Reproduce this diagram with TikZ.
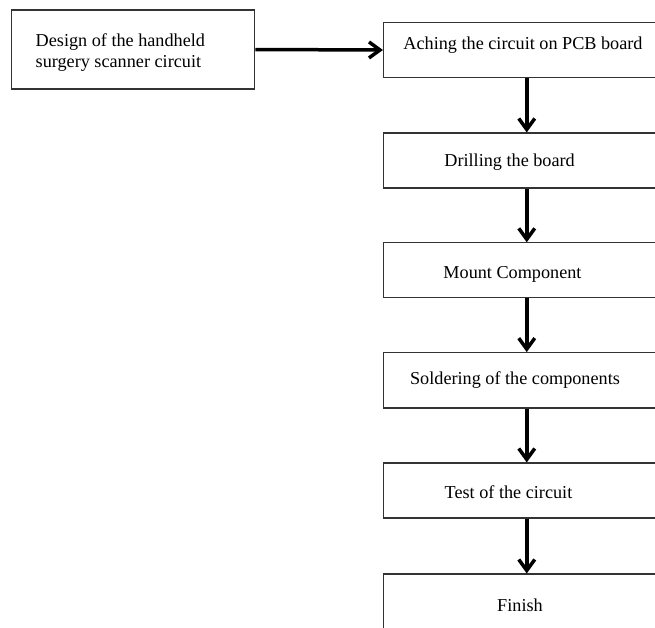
\documentclass[tikz,border=0pt]{standalone}
\usepackage{fontspec}
\setmainfont{Liberation Serif}
\usetikzlibrary{arrows.meta}
\begin{document}
\begin{tikzpicture}[x=1pt,y=-1pt,
  stepbox/.style={draw=black!80,line width=1.1pt,rectangle,inner sep=0pt,minimum width=#1},
  stepbox/.default=286.5pt,
  lbl/.style={font=\fontsize{18.2}{20}\selectfont,inner sep=0pt,anchor=base},
  flow/.style={line width=3.5pt,-{Straight Barb[length=11pt,width=16pt]}}]
\clip (0,0) rectangle (655,627);
\fill[white] (0,0) rectangle (655,627);
% left box
\node[stepbox=243pt,minimum height=79pt] (design) at (133.25,49.5) {};
\node[lbl,anchor=base west] (design1) at (35.5,46.7) {Design of the handheld};
\node[lbl,anchor=base west] (design2) at (35.5,67) {surgery scanner circuit};
% right boxes
\node[stepbox,minimum height=55.4pt] (b1) at (526.75,50) {};
\node[stepbox,minimum height=55pt] (b2) at (526.75,160.5) {};
\node[stepbox,minimum height=54.3pt] (b3) at (526.75,270) {};
\node[stepbox,minimum height=55.3pt] (b4) at (526.75,380.3) {};
\node[stepbox,minimum height=55pt] (b5) at (526.75,490.5) {};
\node[stepbox,minimum height=55pt] (b6) at (526.75,601.5) {};
\node[lbl] (t1) at (523,49) {Aching the circuit on PCB board};
\node[lbl] (t2) at (509.6,166.5) {Drilling the board};
\node[lbl] (t3) at (512.5,278) {Mount Component};
\node[lbl] (t4) at (515,384.5) {Soldering of the components};
\node[lbl] (t5) at (508.5,498) {Test of the circuit};
\node[lbl] (t6) at (520,611.5) {Finish};
% connectors
\draw[flow] (design.east) -- (b1.west);
\draw[flow] (b1.south) -- (b2.north);
\draw[flow] (b2.south) -- (b3.north);
\draw[flow] (b3.south) -- (b4.north);
\draw[flow] (b4.south) -- (b5.north);
\draw[flow] (b5.south) -- (b6.north);
\end{tikzpicture}
\end{document}
